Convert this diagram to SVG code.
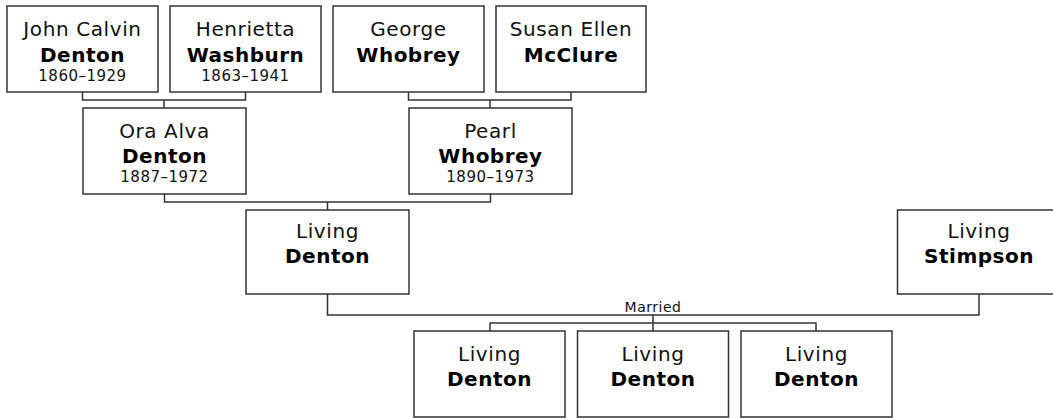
<svg xmlns="http://www.w3.org/2000/svg" width="1053" height="418" viewBox="0 0 1053 418">
<style>
.box{fill:#fff;stroke:#333;stroke-width:1.5}
.ln{fill:none;stroke:#333;stroke-width:1.5}
text{font-family:"DejaVu Sans",Verdana,sans-serif;text-anchor:middle;fill:#111}
.g{font-size:20px;letter-spacing:0.6px}
.s{font-size:20px;font-weight:bold;letter-spacing:0.5px;fill:#000}
.d{font-size:15px;letter-spacing:0.5px}
.m{font-size:14px;letter-spacing:0.5px}
</style>
<rect width="1053" height="418" fill="#fff"/>
<g id="connectors">
<path class="ln" d="M82.5 92V100H245.5V92M164 100V108"/>
<path class="ln" d="M408.5 92V100H571V92M490 100V108"/>
<path class="ln" d="M164.5 194V202H490.5V194M327.5 202V210"/>
<path class="ln" d="M327.5 294V315H979V294"/>
<path class="ln" d="M653 315V331M490 331V323H816V331"/>
<text class="m" x="653" y="312">Married</text>
</g>
<g id="john"><rect class="box" x="7" y="6" width="151" height="86"/><text class="g" x="82.5" y="36">John Calvin</text><text class="s" x="82.5" y="62">Denton</text><text class="d" x="82.5" y="81">1860–1929</text></g>
<g id="henrietta"><rect class="box" x="170" y="6" width="151" height="86"/><text class="g" x="245.5" y="36">Henrietta</text><text class="s" x="245.5" y="62">Washburn</text><text class="d" x="245.5" y="81">1863–1941</text></g>
<g id="george"><rect class="box" x="333" y="6" width="151" height="86"/><text class="g" x="408.5" y="36">George</text><text class="s" x="408.5" y="62">Whobrey</text></g>
<g id="susan"><rect class="box" x="496" y="6" width="150" height="86"/><text class="g" x="571" y="36">Susan Ellen</text><text class="s" x="571" y="62">McClure</text></g>
<g id="ora"><rect class="box" x="83" y="108" width="163" height="86"/><text class="g" x="164.5" y="138">Ora Alva</text><text class="s" x="164.5" y="163">Denton</text><text class="d" x="164.5" y="182">1887–1972</text></g>
<g id="pearl"><rect class="box" x="409" y="108" width="163" height="86"/><text class="g" x="490.5" y="138">Pearl</text><text class="s" x="490.5" y="163">Whobrey</text><text class="d" x="490.5" y="182">1890–1973</text></g>
<g id="living-denton"><rect class="box" x="246" y="210" width="163" height="84"/><text class="g" x="327.5" y="238">Living</text><text class="s" x="327.5" y="263">Denton</text></g>
<g id="living-stimpson"><rect class="box" x="897.5" y="210" width="163" height="84"/><text class="g" x="979" y="238">Living</text><text class="s" x="979" y="263">Stimpson</text></g>
<g id="child1"><rect class="box" x="414" y="331" width="151" height="86"/><text class="g" x="489.5" y="361">Living</text><text class="s" x="489.5" y="386">Denton</text></g>
<g id="child2"><rect class="box" x="577.5" y="331" width="151" height="86"/><text class="g" x="653" y="361">Living</text><text class="s" x="653" y="386">Denton</text></g>
<g id="child3"><rect class="box" x="741" y="331" width="151" height="86"/><text class="g" x="816.5" y="361">Living</text><text class="s" x="816.5" y="386">Denton</text></g>
</svg>
